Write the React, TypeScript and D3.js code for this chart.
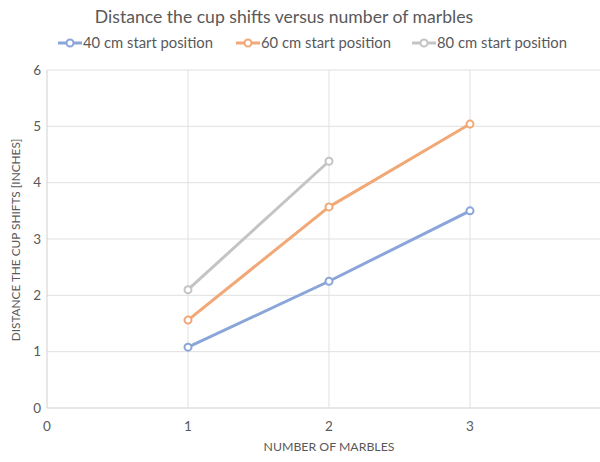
import React from 'react';
import * as d3 from 'd3';

const marbles = [1, 2, 3];
const series40 = [1.08, 2.25, 3.5];
const series60 = [1.56, 3.57, 5.04];
const series80 = [2.1, 4.38];
const seriesNames = ['40 cm start position', '60 cm start position', '80 cm start position'];
const seriesColors = ['#8aa6d9', '#f1a876', '#c4c4c4'];
const xTicks = [0, 1, 2, 3];
const yTicks = [0, 1, 2, 3, 4, 5, 6];

const W = 600;
const H = 462;
const margin = { top: 70, right: 0, bottom: 54, left: 47 };
const font = "Lato, Carlito, 'Open Sans', sans-serif";
const textColor = '#595959';

export default function App() {
  const x = d3.scaleLinear().domain([0, 3.922]).range([margin.left, W - margin.right]);
  const y = d3.scaleLinear().domain([0, 6]).range([H - margin.bottom, margin.top]);

  const allSeries = [series40, series60, series80];
  const line = d3.line<number>()
    .x((_, i) => x(marbles[i]))
    .y((d) => y(d));

  // legend entries sit where the reference puts them
  const legendX = [58, 236, 412];

  return (
    <div style={{ position: 'absolute', left: 0, top: 0 }}>
      <svg width={W} height={H} style={{ display: 'block', background: '#fff' }}>
        {/* grid */}
        {yTicks.map((t) => (
          <line key={'gy' + t} x1={x(0)} x2={W} y1={y(t)} y2={y(t)}
            stroke={t === 0 ? '#d0d0d0' : '#e0e0e0'} strokeWidth={1} />
        ))}
        {xTicks.map((t) => (
          <line key={'gx' + t} x1={x(t)} x2={x(t)} y1={y(0)} y2={y(6)}
            stroke={t === 0 ? '#d0d0d0' : '#e0e0e0'} strokeWidth={1} />
        ))}

        {/* tick labels */}
        {yTicks.map((t) => (
          <text key={'ty' + t} x={x(0) - 6} y={y(t)} dy="0.35em" textAnchor="end"
            fontFamily={font} fontSize={13.5} fill={textColor}>{t}</text>
        ))}
        {xTicks.map((t) => (
          <text key={'tx' + t} x={x(t)} y={431} textAnchor="middle"
            fontFamily={font} fontSize={13.5} fill={textColor}>{t}</text>
        ))}

        {/* axis titles */}
        <text x={x(2)} y={451} textAnchor="middle" fontFamily={font} fontSize={12.3} fill={textColor}>
          NUMBER OF MARBLES
        </text>
        <text transform={`translate(20,240) rotate(-90)`} textAnchor="middle"
          fontFamily={font} fontSize={11.8} fill={textColor}>
          DISTANCE THE CUP SHIFTS  [INCHES]
        </text>

        {/* title */}
        <text x={284} y={23} textAnchor="middle" fontFamily={font} fontSize={17.6} fill={textColor}>
          Distance the cup shifts versus number of marbles
        </text>

        {/* legend */}
        {seriesNames.map((name, i) => (
          <g key={name} transform={`translate(${legendX[i]},43)`}>
            <line x1={0} x2={24} y1={0} y2={0} stroke={seriesColors[i]} strokeWidth={3} />
            <circle cx={12} cy={0} r={3.5} fill="#fff" stroke={seriesColors[i]} strokeWidth={2} />
            <text x={25} y={0} dy="0.35em" fontFamily={font} fontSize={14.8} fill={textColor}>{name}</text>
          </g>
        ))}

        {/* series */}
        {allSeries.map((s, k) => (
          <g key={k}>
            <path d={line(s) ?? ''} fill="none" stroke={seriesColors[k]} strokeWidth={3} strokeLinejoin="round" />
            {s.map((v, i) => (
              <circle key={i} cx={x(marbles[i])} cy={y(v)} r={3.5} fill="#fff"
                stroke={seriesColors[k]} strokeWidth={2} />
            ))}
          </g>
        ))}
      </svg>
    </div>
  );
}
